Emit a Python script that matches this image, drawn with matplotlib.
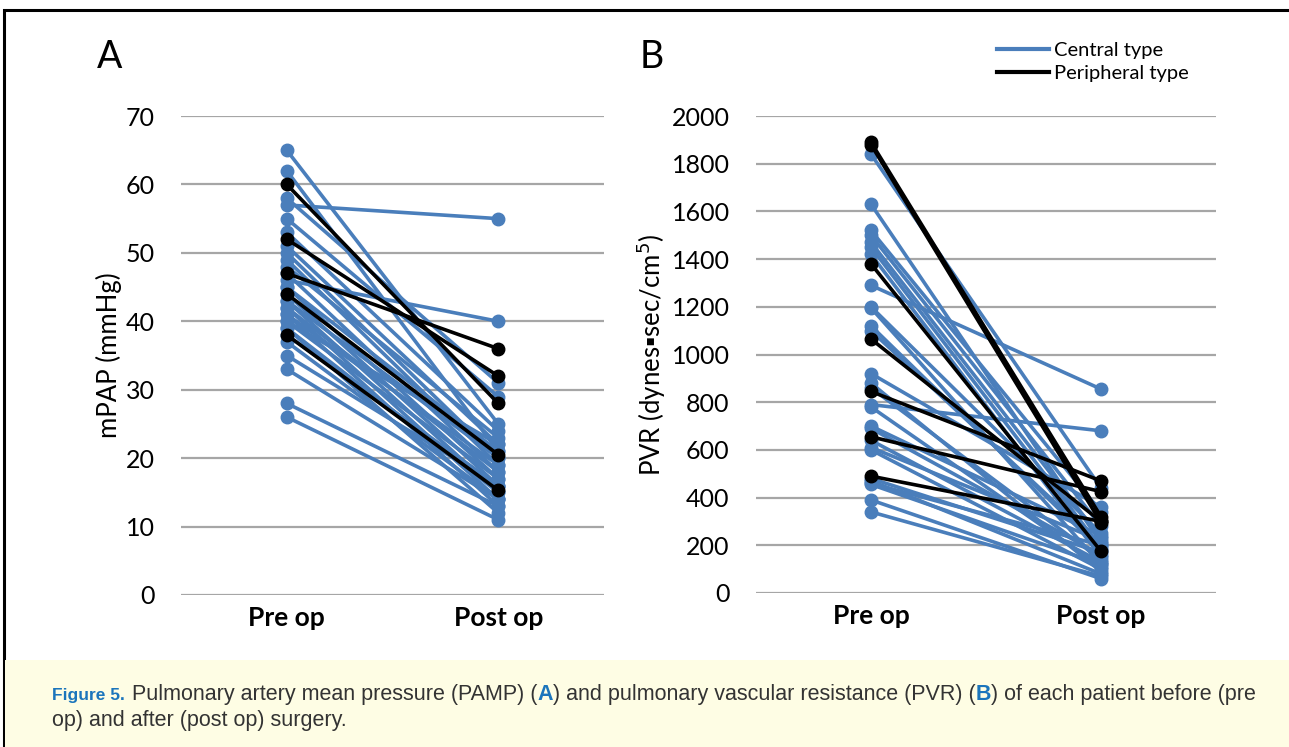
import matplotlib
matplotlib.use('Agg')
import matplotlib.pyplot as plt
from matplotlib.patches import Rectangle
from matplotlib.lines import Line2D

# ---- data ----
categories = ['Pre op', 'Post op']

# panel A: mPAP (mmHg)
central_pre_A = [65, 62, 58, 57, 55, 53, 51, 50, 49, 48, 47, 46, 45, 45, 44, 43,
                 43, 42, 42, 41, 41, 40, 40, 39, 39, 38, 37, 35, 33, 28, 26]
central_post_A = [25, 21, 31, 55, 29, 24, 22, 20, 19, 23, 18, 40, 21, 17, 16, 20,
                  15, 18, 14, 19, 13, 22, 17, 15, 12, 16, 14, 16, 14, 13, 11]
peripheral_pre_A = [60, 52, 47, 44, 38]
peripheral_post_A = [28, 32, 36, 20.5, 15.3]

# panel B: PVR (dynes*sec/cm5)
central_pre_B = [1840, 1630, 1520, 1500, 1470, 1450, 1420, 1290, 1200, 1195, 1120,
                 1100, 920, 880, 860, 790, 780, 700, 690, 640, 610, 600, 480, 470,
                 460, 455, 390, 340]
central_post_B = [440, 210, 340, 280, 230, 190, 150, 855, 250, 120, 180, 200, 360,
                  90, 140, 680, 110, 240, 160, 130, 220, 100, 170, 80, 200, 120,
                  60, 70]
peripheral_pre_B = [1890, 1880, 1380, 1065, 845, 655, 490]
peripheral_post_B = [320, 295, 175, 300, 470, 425, 300]

legend_labels = ['Central type', 'Peripheral type']

BLUE = '#4a7ebb'
GRID = '#a6a6a6'
W, H = 1289, 747

MAIN = ['Lato', 'DejaVu Sans']
CAP = 'Liberation Sans'

fig = plt.figure(figsize=(W / 100, H / 100), dpi=100)


def rect(x0, y0, x1, y1):
    return [x0 / W, 1 - y1 / H, (x1 - x0) / W, (y1 - y0) / H]


# frame + caption background
fig.patches.append(Rectangle((4 / W, 0), 1, 1 - 10 / H, transform=fig.transFigure,
                             facecolor='white', edgecolor='black', lw=2.2, zorder=-2))
fig.patches.append(Rectangle((5 / W, 0), 1, (H - 660) / H, transform=fig.transFigure,
                             facecolor='#fefde4', edgecolor='none', zorder=-1))


def draw(ax, pre_c, post_c, pre_p, post_p, ymax, step):
    ax.set_facecolor('none')
    for a, b in zip(pre_c, post_c):
        ax.plot([0, 1], [a, b], color=BLUE, lw=2.6, marker='o', ms=9, zorder=2, clip_on=False)
    for a, b in zip(pre_p, post_p):
        ax.plot([0, 1], [a, b], color='black', lw=2.6, marker='o', ms=9, zorder=3, clip_on=False)
    ax.set_xlim(-0.5, 1.5)
    ax.set_ylim(0, ymax)
    ax.set_yticks(range(0, ymax + 1, step))
    ax.set_xticks([0, 1])
    ax.set_xticklabels(categories, fontweight='bold', fontsize=19, family=MAIN)
    for t in ax.get_yticklabels():
        t.set_family(MAIN)
    ax.grid(axis='y', color=GRID, lw=1.6)
    ax.set_axisbelow(True)
    for s in ax.spines.values():
        s.set_visible(False)
    ax.tick_params(axis='y', length=0, labelsize=18, pad=19)
    ax.tick_params(axis='x', length=0, pad=8)


axA = fig.add_axes(rect(181, 116, 604, 595))
draw(axA, central_pre_A, central_post_A, peripheral_pre_A, peripheral_post_A, 70, 10)
axA.set_ylabel('mPAP (mmHg)', fontsize=18.5, family=MAIN)
axA.yaxis.set_label_coords((122 - 181) / 423, 0.5)

axB = fig.add_axes(rect(756, 116, 1216, 593))
draw(axB, central_pre_B, central_post_B, peripheral_pre_B, peripheral_post_B, 2000, 200)
axB.set_ylabel('PVR (dynes\u25aasec/cm$^5$)', fontsize=18.5, family=MAIN)
axB.yaxis.set_label_coords((668 - 756) / 460, 0.5)

fig.text(110 / W, 1 - 57 / H, 'A', fontsize=27, family=MAIN, ha='center', va='center')
fig.text(652 / W, 1 - 57 / H, 'B', fontsize=27, family=MAIN, ha='center', va='center')

handles = [Line2D([], [], color=BLUE, lw=3), Line2D([], [], color='black', lw=3)]
fig.legend(handles, legend_labels, loc='upper left', bbox_to_anchor=(997 / W, 1 - 42 / H),
           frameon=False, handlelength=2.6, handletextpad=0.25, labelspacing=0.3,
           prop={'family': MAIN, 'size': 14.5}, borderaxespad=0, borderpad=0)

# caption with mixed styles
r = fig.canvas.get_renderer()
GREY = '#333333'
CBLUE = '#1b75bc'


def put(x, y, txt, size=15.5, **kw):
    t = fig.text(x / W, 1 - y / H, txt, va='baseline', fontsize=size, zorder=5, **kw)
    return x + t.get_window_extent(r).width


put(52, 700, 'Figure 5.', size=12.5, family=CAP, fontweight='bold', color=CBLUE)

x = 132
parts = [('Pulmonary artery mean pressure (PAMP) (', GREY, 'normal'),
         ('A', CBLUE, 'bold'),
         (') and pulmonary vascular resistance (PVR) (', GREY, 'normal'),
         ('B', CBLUE, 'bold'),
         (') of each patient before (pre', GREY, 'normal')]
for txt, c, w in parts:
    x = put(x, 700, txt, family=CAP, color=c, fontweight=w)
put(52, 726, 'op) and after (post op) surgery.', family=CAP, color=GREY)

fig.savefig('out.png', dpi=100)
